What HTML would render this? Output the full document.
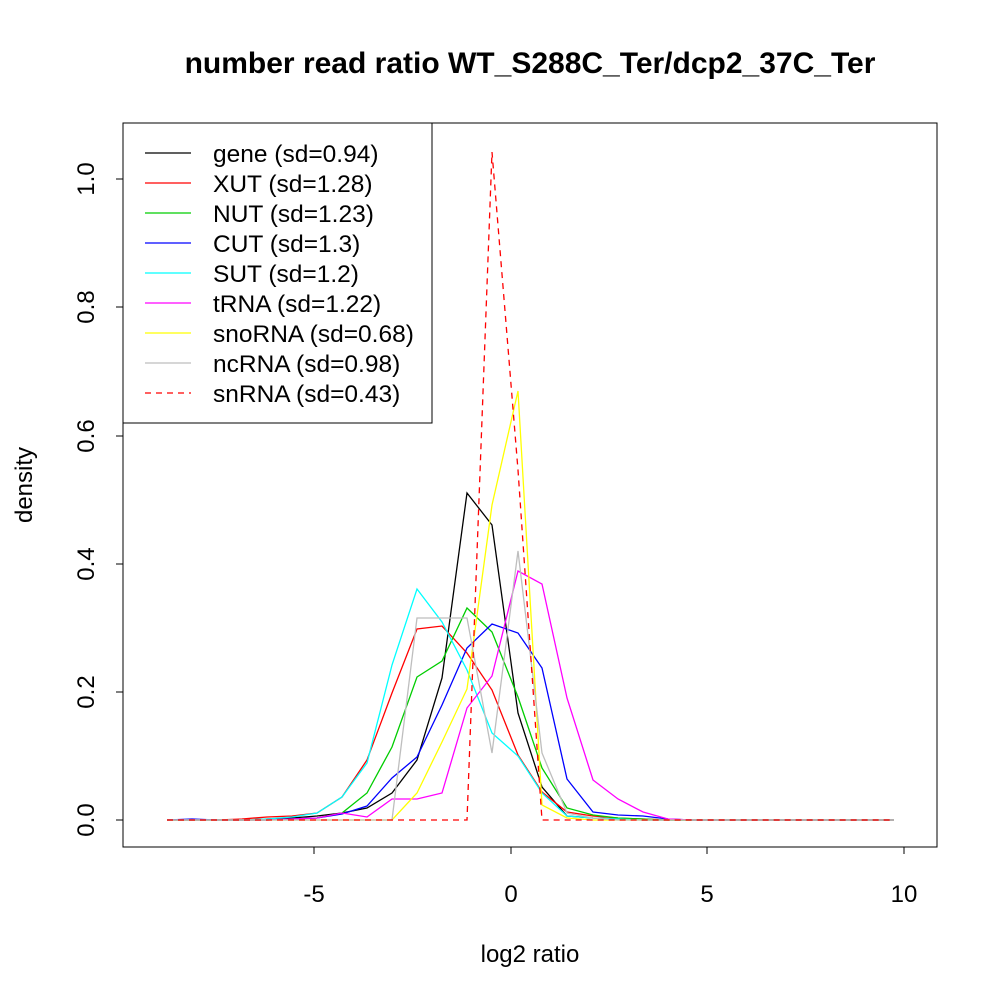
<!DOCTYPE html>
<html><head><style>body{margin:0;background:#fff}</style></head><body>
<svg width="1000" height="1000" xmlns="http://www.w3.org/2000/svg" font-family="Liberation Sans, sans-serif">
<rect width="1000" height="1000" fill="#fff"/>
<text x="530" y="73" font-size="30" font-weight="bold" text-anchor="middle">number read ratio WT_S288C_Ter/dcp2_37C_Ter</text>
<rect x="123" y="123" width="814" height="724" fill="none" stroke="#000" stroke-width="1"/>
<g stroke="#000" stroke-width="1">
<line x1="314" y1="847" x2="904" y2="847"/>
<line x1="314" y1="847" x2="314" y2="854"/><line x1="511" y1="847" x2="511" y2="854"/><line x1="707" y1="847" x2="707" y2="854"/><line x1="904" y1="847" x2="904" y2="854"/>
<line x1="123" y1="820" x2="123" y2="179"/>
<line x1="116" y1="820" x2="123" y2="820"/><line x1="116" y1="692" x2="123" y2="692"/><line x1="116" y1="564" x2="123" y2="564"/><line x1="116" y1="436" x2="123" y2="436"/><line x1="116" y1="307" x2="123" y2="307"/><line x1="116" y1="179" x2="123" y2="179"/>
</g>
<g font-size="24" text-anchor="middle">
<text x="314" y="902">-5</text><text x="511" y="902">0</text><text x="707" y="902">5</text><text x="904" y="902">10</text>
<text x="530" y="962">log2 ratio</text>
<text transform="translate(94,820) rotate(-90)">0.0</text>
<text transform="translate(94,692) rotate(-90)">0.2</text>
<text transform="translate(94,564) rotate(-90)">0.4</text>
<text transform="translate(94,436) rotate(-90)">0.6</text>
<text transform="translate(94,307) rotate(-90)">0.8</text>
<text transform="translate(94,179) rotate(-90)">1.0</text>
<text transform="translate(32,485) rotate(-90)">density</text>
</g>
<g fill="none" stroke-width="1.3">
<polyline stroke="#000" points="167,820 192,820 217,820 242,820 267,819 292,818 317,816 342,813 367,808 392,793 417,760 442,678 467,493 492,525 518,713 542,787 567,816 593,818 618,819 643,820 668,820 693,820 718,820 743,820 768,820 793,820 818,820 843,820 868,820 894,820"/>
<polyline stroke="#f00" points="167,820 192,820 217,820 242,819 267,817 292,816 317,813 342,797 367,760 392,693 417,629 442,626 467,653 492,690 518,755 542,792 567,812 593,816 618,818 643,819 668,820 693,820 718,820 743,820 768,820 793,820 818,820 843,820 868,820 894,820"/>
<polyline stroke="#00cd00" points="167,820 192,820 217,820 242,820 267,820 292,819 317,818 342,813 367,793 392,747 417,677 442,661 467,608 492,632 518,697 542,768 567,808 593,815 618,818 643,819 668,820 693,820 718,820 743,820 768,820 793,820 818,820 843,820 868,820 894,820"/>
<polyline stroke="#00f" points="167,820 192,819 217,820 242,820 267,820 292,819 317,818 342,814 367,806 392,778 417,757 442,705 467,648 492,624 518,633 542,668 567,779 593,812 618,815 643,816 668,819 693,820 718,820 743,820 768,820 793,820 818,820 843,820 868,820 894,820"/>
<polyline stroke="#0ff" points="167,820 192,820 217,820 242,820 267,819 292,817 317,813 342,797 367,763 392,665 417,589 442,622 467,670 492,733 518,756 542,793 567,816 593,818 618,819 643,820 668,820 693,820 718,820 743,820 768,820 793,820 818,820 843,820 868,820 894,820"/>
<polyline stroke="#f0f" points="167,820 192,820 217,820 242,820 267,820 292,819 317,818 342,813 367,817 392,799 417,799 442,793 467,708 492,676 518,571 542,584 567,698 593,780 618,799 643,812 668,819 693,820 718,820 743,820 768,820 793,820 818,820 843,820 868,820 894,820"/>
<polyline stroke="#ff0" points="167,820 192,820 217,820 242,820 267,820 292,820 317,820 342,820 367,820 392,820 417,793 442,742 467,689 492,505 518,391 542,805 567,818 593,820 618,820 643,820 668,820 693,820 718,820 743,820 768,820 793,820 818,820 843,820 868,820 894,820"/>
<polyline stroke="#bebebe" points="167,820 192,820 217,820 242,820 267,820 292,820 317,820 342,820 367,820 392,820 417,618 442,618 467,618 492,753 518,551 542,753 567,813 593,818 618,820 643,820 668,820 693,820 718,820 743,820 768,820 793,820 818,820 843,820 868,820 894,820"/>
<polyline stroke="#f00" stroke-dasharray="6,5" points="167,820 192,820 217,820 242,820 267,820 292,820 317,820 342,820 367,820 392,820 417,820 442,820 467,820 492,152 518,470 542,820 567,820 593,820 618,820 643,820 668,820 693,820 718,820 743,820 768,820 793,820 818,820 843,820 868,820 894,820"/>
</g>
<rect x="123" y="123" width="309" height="300" fill="#fff" stroke="#000" stroke-width="1"/>
<g stroke-width="1.3">
<line x1="145" y1="153" x2="191" y2="153" stroke="#000"/>
<line x1="145" y1="183" x2="191" y2="183" stroke="#f00"/>
<line x1="145" y1="213" x2="191" y2="213" stroke="#00cd00"/>
<line x1="145" y1="243" x2="191" y2="243" stroke="#00f"/>
<line x1="145" y1="273" x2="191" y2="273" stroke="#0ff"/>
<line x1="145" y1="303" x2="191" y2="303" stroke="#f0f"/>
<line x1="145" y1="333" x2="191" y2="333" stroke="#ff0"/>
<line x1="145" y1="363" x2="191" y2="363" stroke="#bebebe"/>
<line x1="145" y1="393" x2="191" y2="393" stroke="#f00" stroke-dasharray="6,5"/>
</g>
<g font-size="24.5">
<text x="213" y="162">gene (sd=0.94)</text>
<text x="213" y="192">XUT (sd=1.28)</text>
<text x="213" y="222">NUT (sd=1.23)</text>
<text x="213" y="252">CUT (sd=1.3)</text>
<text x="213" y="282">SUT (sd=1.2)</text>
<text x="213" y="312">tRNA (sd=1.22)</text>
<text x="213" y="342">snoRNA (sd=0.68)</text>
<text x="213" y="372">ncRNA (sd=0.98)</text>
<text x="213" y="402">snRNA (sd=0.43)</text>
</g>
</svg>
</body></html>
